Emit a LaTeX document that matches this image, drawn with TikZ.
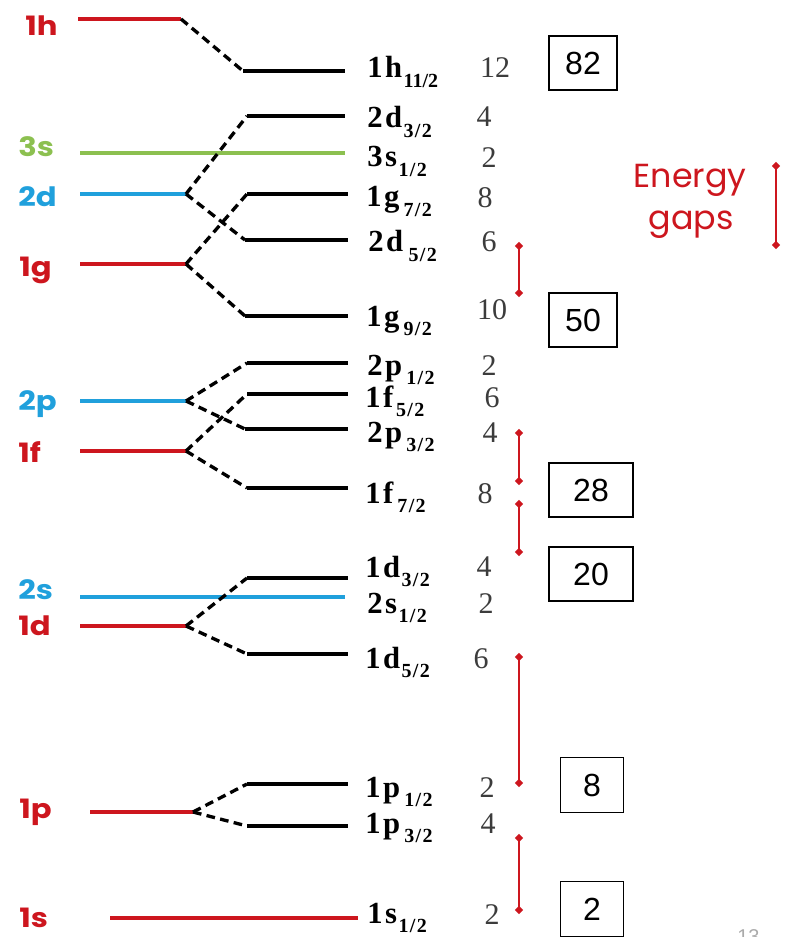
\documentclass[tikz,border=0pt]{standalone}
\usepackage{fontspec}
\setmainfont{Liberation Serif}
\newfontfamily\labfont{Poppins}
\newfontfamily\shellfont{Poppins}[FakeStretch=1.15]
\newfontfamily\boxfont{Liberation Sans}
\usetikzlibrary{shapes.geometric}
\definecolor{lvred}{RGB}{205,22,30}
\definecolor{lvblue}{RGB}{32,160,220}
\definecolor{lvgreen}{RGB}{140,192,80}
\definecolor{numgray}{RGB}{60,60,60}
\definecolor{pagegray}{RGB}{170,170,170}
\newcommand{\orbit}[3]{{\bfseries #1\kern2pt#2}\kern1pt\raisebox{-7pt}{\fontsize{15}{15}\selectfont\bfseries #3}}
\tikzset{
  level/.style={line width=3pt},
  split/.style={line width=2.5pt, dash pattern=on 6.5pt off 4pt},
  orblabel/.style={anchor=base west, inner sep=0pt, font=\fontsize{23}{23}\selectfont},
  deg/.style={anchor=base, inner sep=0pt, text=numgray, font=\fontsize{22.5}{22.5}\selectfont},
  shell/.style={anchor=base west, inner sep=0pt, font=\shellfont\bfseries\fontsize{20}{20}\selectfont},
  magic/.style={draw, line width=1pt, inner sep=0pt, minimum height=40.5pt, font=\boxfont\fontsize{24}{24}\selectfont},
  gapline/.style={lvred, line width=0.8pt},
  gaptip/.style={diamond, fill=lvred, inner sep=0pt, minimum size=6.5pt},
  gaptext/.style={anchor=base, inner sep=0pt, text=lvred, font=\labfont\fontsize{25}{25}\selectfont}
}
\begin{document}
\begin{tikzpicture}[x=0.75pt,y=-0.75pt]
\useasboundingbox (0,0) rectangle (785,937);
% ---------- coordinates of levels ----------
\coordinate (h-l) at (78,19);   \coordinate (h-r) at (181,19);
\coordinate (h11-l) at (243,71); \coordinate (h11-r) at (345,71);
\coordinate (d2-l) at (80,194);  \coordinate (d2-r) at (186,194);
\coordinate (d23-l) at (247,116); \coordinate (d23-r) at (345,116);
\coordinate (d25-l) at (245,240); \coordinate (d25-r) at (348,240);
\coordinate (s3-l) at (80,153);  \coordinate (s3-r) at (345,153);
\coordinate (g-l) at (80,264);   \coordinate (g-r) at (186,264);
\coordinate (g7-l) at (247,194); \coordinate (g7-r) at (348,194);
\coordinate (g9-l) at (245,316); \coordinate (g9-r) at (348,316);
\coordinate (p2-l) at (80,401);  \coordinate (p2-r) at (186,401);
\coordinate (p21-l) at (247,363); \coordinate (p21-r) at (348,363);
\coordinate (p23-l) at (245,429); \coordinate (p23-r) at (348,429);
\coordinate (f-l) at (80,451);   \coordinate (f-r) at (186,451);
\coordinate (f5-l) at (247,394); \coordinate (f5-r) at (348,394);
\coordinate (f7-l) at (247,488); \coordinate (f7-r) at (348,488);
\coordinate (s2-l) at (80,597);  \coordinate (s2-r) at (345,597);
\coordinate (d-l) at (80,626);   \coordinate (d-r) at (186,626);
\coordinate (d3-l) at (247,578); \coordinate (d3-r) at (348,578);
\coordinate (d5-l) at (247,654); \coordinate (d5-r) at (348,654);
\coordinate (p-l) at (90,812);   \coordinate (p-r) at (193,812);
\coordinate (p1-l) at (247,784); \coordinate (p1-r) at (348,784);
\coordinate (p3-l) at (247,826); \coordinate (p3-r) at (348,826);
\coordinate (s-l) at (110,918);  \coordinate (s-r) at (358,918);
% ---------- unsplit levels ----------
\draw[level, lvred] (h-l) -- (h-r);
\draw[level, lvgreen] (s3-l) -- (s3-r);
\draw[level, lvblue] (d2-l) -- (d2-r);
\draw[level, lvred] (g-l) -- (g-r);
\draw[level, lvblue] (p2-l) -- (p2-r);
\draw[level, lvred] (f-l) -- (f-r);
\draw[level, lvblue] (s2-l) -- (s2-r);
\draw[level, lvred] (d-l) -- (d-r);
\draw[level, lvred] (p-l) -- (p-r);
\draw[level, lvred] (s-l) -- (s-r);
% ---------- split levels ----------
\foreach \n in {h11,d23,d25,g7,g9,p21,p23,f5,f7,d3,d5,p1,p3}
  \draw[level] (\n-l) -- (\n-r);
% ---------- splitting connectors ----------
\draw[split] (h-r) -- (h11-l);
\draw[split] (d2-r) -- (d23-l);
\draw[split] (d2-r) -- (d25-l);
\draw[split] (g-r) -- (g7-l);
\draw[split] (g-r) -- (g9-l);
\draw[split] (p2-r) -- (p21-l);
\draw[split] (p2-r) -- (p23-l);
\draw[split] (f-r) -- (f5-l);
\draw[split] (f-r) -- (f7-l);
\draw[split] (d-r) -- (d3-l);
\draw[split] (d-r) -- (d5-l);
\draw[split] (p-r) -- (p1-l);
\draw[split] (p-r) -- (p3-l);
% ---------- shell labels (left) ----------
\node[shell, text=lvred]   (L1h) at (25,36)  {1h};
\node[shell, text=lvgreen] (L3s) at (18,157) {3s};
\node[shell, text=lvblue]  (L2d) at (18,207) {2d};
\node[shell, text=lvred]   (L1g) at (19,277) {1g};
\node[shell, text=lvblue]  (L2p) at (18,410) {2p};
\node[shell, text=lvred]   (L1f) at (18,462) {1f};
\node[shell, text=lvblue]  (L2s) at (18,599) {2s};
\node[shell, text=lvred]   (L1d) at (18,635) {1d};
\node[shell, text=lvred]   (L1p) at (19,818) {1p};
\node[shell, text=lvred]   (L1s) at (19,927) {1s};
% ---------- orbital labels (right) ----------
\node[orblabel] (O1) at (367,78)  {\orbit{1}{h}{11/2}};
\node[orblabel] (O2) at (367,128) {\orbit{2}{d}{3\kern1pt/\kern1pt2}};
\node[orblabel] (O3) at (367,167) {\orbit{3}{s}{1\kern1pt/\kern1pt2}};
\node[orblabel] (O4) at (366,207) {\orbit{1}{g}{\kern2pt7\kern1pt/\kern1pt2}};
\node[orblabel] (O5) at (368,252) {\orbit{2}{d}{\kern3pt5\kern1pt/\kern1pt2}};
\node[orblabel] (O6) at (366,326) {\orbit{1}{g}{\kern2pt9\kern1pt/\kern1pt2}};
\node[orblabel] (O7) at (367,375) {\orbit{2}{p}{\kern2pt1\kern1pt/\kern1pt2}};
\node[orblabel] (O8) at (365,407) {\orbit{1}{f}{\kern1pt5\kern1pt/\kern1pt2}};
\node[orblabel] (O9) at (367,442) {\orbit{2}{p}{\kern2pt3\kern1pt/\kern1pt2}};
\node[orblabel] (O10) at (365,503) {\orbit{1}{f}{\kern2pt7\kern1pt/\kern1pt2}};
\node[orblabel] (O11) at (365,577) {\orbit{1}{d}{3\kern1pt/\kern1pt2}};
\node[orblabel] (O12) at (367,613) {\orbit{2}{s}{1\kern1pt/\kern1pt2}};
\node[orblabel] (O13) at (365,668) {\orbit{1}{d}{5\kern1pt/\kern1pt2}};
\node[orblabel] (O14) at (365,797) {\orbit{1}{p}{\kern2pt1\kern1pt/\kern1pt2}};
\node[orblabel] (O15) at (365,833) {\orbit{1}{p}{\kern2pt3\kern1pt/\kern1pt2}};
\node[orblabel] (O16) at (367,923) {\orbit{1}{s}{1\kern1pt/\kern1pt2}};
% ---------- degeneracies ----------
\node[deg] (N1) at (495,78)  {12};
\node[deg] (N2) at (484,127) {4};
\node[deg] (N3) at (489,168) {2};
\node[deg] (N4) at (485,208) {8};
\node[deg] (N5) at (489,252) {6};
\node[deg] (N6) at (492,320) {10};
\node[deg] (N7) at (489,375) {2};
\node[deg] (N8) at (492,407) {6};
\node[deg] (N9) at (490,442) {4};
\node[deg] (N10) at (485,503) {8};
\node[deg] (N11) at (484,576) {4};
\node[deg] (N12) at (486,613) {2};
\node[deg] (N13) at (481,668) {6};
\node[deg] (N14) at (487,797) {2};
\node[deg] (N15) at (488,833) {4};
\node[deg] (N16) at (492,924) {2};
% ---------- magic numbers ----------
\node[magic, minimum width=51pt] (M82) at (583,63)  {82};
\node[magic, minimum width=51pt] (M50) at (583,320) {50};
\node[magic, minimum width=63pt] (M28) at (591,490) {28};
\node[magic, minimum width=63pt] (M20) at (591,574) {20};
\node[magic, minimum width=47pt, minimum height=41pt] (M8) at (592,785) {8};
\node[magic, minimum width=47pt, minimum height=41pt] (M2) at (592,909) {2};
% ---------- energy gaps ----------
\foreach \i/\ya/\yb/\xx in {1/246/293/519, 2/433/481/519, 3/504/552/519, 4/657/783/519, 5/838/910/519, 6/166/245/776}{
  \coordinate (gap\i-a) at (\xx,\ya);
  \coordinate (gap\i-b) at (\xx,\yb);
  \draw[gapline] (gap\i-a) -- (gap\i-b);
  \node[gaptip] at (gap\i-a) {};
  \node[gaptip] at (gap\i-b) {};
}
\node[gaptext] (E1) at (690,188) {Energy};
\node[gaptext] (E2) at (691,230) {gaps};
% ---------- page number (cut by the lower edge, as in the reference) ----------
\node[anchor=base west, inner sep=0pt, text=pagegray, font=\boxfont\fontsize{15}{15}\selectfont] (pg) at (737,943) {13};
\end{tikzpicture}
\end{document}
